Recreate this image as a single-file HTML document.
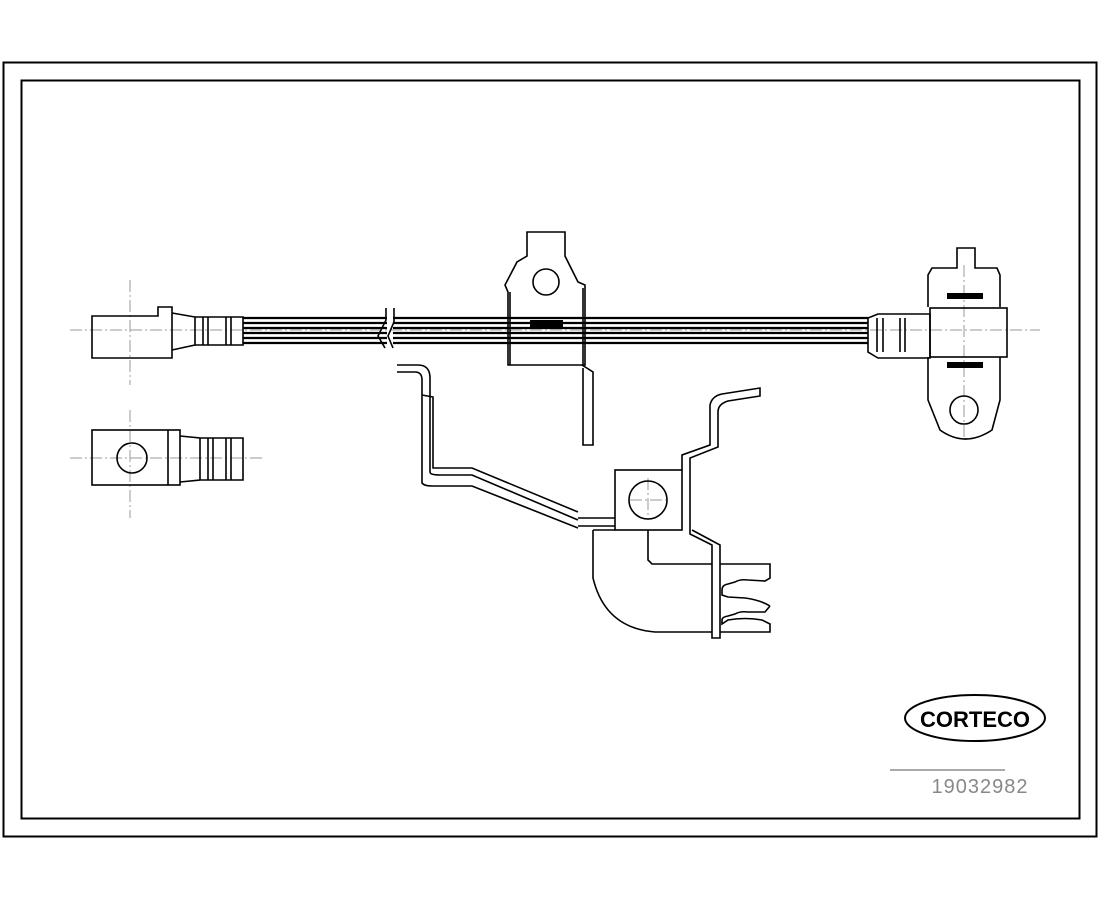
<!DOCTYPE html>
<html><head><meta charset="utf-8"><style>
html,body{margin:0;padding:0;background:#fff;width:1100px;height:900px;overflow:hidden}
svg{display:block}
</style></head><body>
<svg width="1100" height="900" viewBox="0 0 1100 900" xmlns="http://www.w3.org/2000/svg">
<rect width="1100" height="900" fill="#fff"/>
<rect x="3.5" y="62.5" width="1093" height="774" fill="none" stroke="#000" stroke-width="2"/>
<rect x="21.5" y="80.5" width="1058" height="738" fill="none" stroke="#000" stroke-width="2"/>
<g stroke="#999" stroke-width="1" stroke-dasharray="12,3,2,3" fill="none">
<line x1="70" y1="330" x2="1040" y2="330"/>
<line x1="130" y1="280" x2="130" y2="385"/>
<line x1="70" y1="458" x2="265" y2="458"/>
<line x1="130" y1="410" x2="130" y2="518"/>
<line x1="964" y1="265" x2="964" y2="440"/>
<line x1="630" y1="500" x2="668" y2="500"/>
<line x1="648" y1="478" x2="648" y2="520"/>
</g>
<g stroke="#000" stroke-width="1.6" fill="none">
<path d="M92 316 H158 V307 H172 V358 H92 Z"/>
<path d="M172 313 L195 317 V345 L172 350"/>
<path d="M195 317 H243 V345 H195"/>
<path d="M203 317 V345 M208 317 V345 M226 317 V345 M231 317 V345"/>
<path d="M243 318 H387 M243 323 H387 M243 328 H387 M243 333 H387 M243 338 H387 M243 343 H387" stroke-width="2.2"/>
<path d="M393 318 H868 M393 323 H868 M393 328 H868 M393 333 H868 M393 338 H868 M393 343 H868" stroke-width="2.2"/>
<path d="M386 308 V320 L378 336 L385 348 M394 308 V322 L388 336 L393 348"/>
<rect x="92" y="430" width="88" height="55"/>
<line x1="168" y1="430" x2="168" y2="485"/>
<circle cx="132" cy="458" r="15"/>
<path d="M180 436 L200 438 V480 L180 482 M200 438 H243 V480 H200 M208 438 V480 M213 438 V480 M226 438 V480 M231 438 V480"/>
<path d="M527 232 H565 V256 L578 282 L585 285 V365 H508 V292 L505 285 L517 262 L527 256 Z"/>
<line x1="510" y1="292" x2="510" y2="365"/>
<line x1="583" y1="288" x2="583" y2="365"/>
<circle cx="546" cy="282" r="13"/>
<path d="M582 365 L593 372 V445 H583 V368"/>
<path d="M868 318 L878 314 H930 V358 H878 L868 352 Z"/>
<path d="M877 318 V352 M883 318 V352 M900 318 V352 M905 318 V352"/>
<rect x="930" y="308" width="77" height="49"/>
<path d="M928 307 V275 L932 268 H957 V248 H975 V268 H997 L1000 275 V307"/>
<path d="M1000 357 V400 L992 430 Q965 448 940 430 L928 400 V357"/>
<circle cx="964" cy="410" r="14"/>
<path d="M397 365 H418 Q430 365 430 378 V472 Q430 475 440 475 H472 L578 520"/>
<path d="M397 372 H415 Q422 372 422 380 V483 Q424 486 432 486 H472 L578 528"/>
<path d="M422 395 L433 397 V468 H472 L578 512"/>
<path d="M578 518 H615 M578 526 H615"/>
<rect x="615" y="470" width="67" height="60"/>
<circle cx="648" cy="500" r="19"/>
<path d="M682 470 V455 L710 445 V405 Q712 396 722 394 L760 388 V396 L728 401 Q718 404 718 412 V447 L690 458 V534 L712 545 V638 H720 V545 L692 530"/>
<path d="M593 530 H615 M593 530 V578 Q605 628 655 632 H712"/>
<path d="M648 530 V560 L652 564 H712"/>
<path d="M720 564 H770 V578 L765 581 L748 580 Q740 579 735 582 L728 584 Q722 585 722 590 V595 L728 597 L745 598 Q760 600 770 606"/>
<path d="M770 606 L765 612 H748 Q740 611 735 614 L728 616 Q722 617 722 620 V624 L728 620 Q745 617 762 620 L770 624 V632 H720"/>
<ellipse cx="975" cy="718" rx="70" ry="23" stroke-width="2"/>
<line x1="890" y1="770" x2="1005" y2="770" stroke="#555" stroke-width="1"/>
</g>
<g fill="#000">
<rect x="530" y="320" width="33" height="7"/>
<rect x="947" y="293" width="36" height="6"/>
<rect x="947" y="362" width="36" height="6"/>
</g>
<text x="975" y="727" text-anchor="middle" font-family="Liberation Sans, sans-serif" font-weight="bold" font-size="22" fill="#000">CORTECO</text>
<text x="980" y="793" text-anchor="middle" font-family="Liberation Sans, sans-serif" font-size="20" fill="#888" letter-spacing="1">19032982</text>
</svg>
</body></html>
